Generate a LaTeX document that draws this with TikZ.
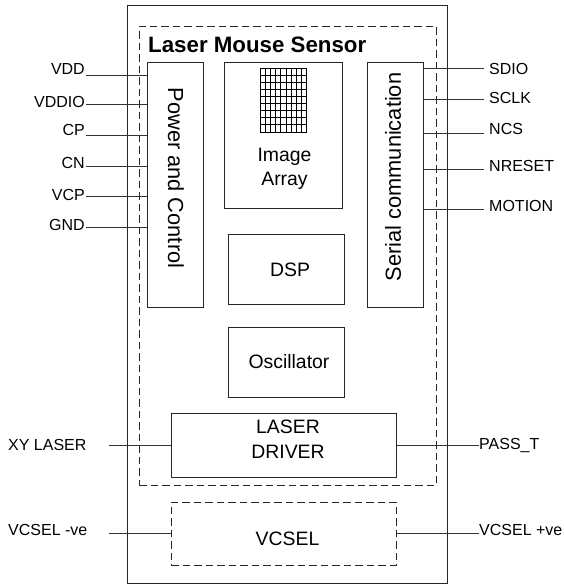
\documentclass[tikz,border=0pt]{standalone}
\usepackage{fontspec}
\setmainfont{Liberation Sans}
\tikzset{
  x=1pt,y=-1pt,
  block/.style={draw=black!85,line width=0.9pt,minimum width=0pt,inner sep=0pt,anchor=north west},
  dashblock/.style={block,dash pattern=on 7.5pt off 4pt},
  wire/.style={draw=black!80,line width=0.9pt},
  pin/.style={font=\fontsize{16}{16}\selectfont,inner sep=0pt},
  lbl/.style={font=\fontsize{19.4}{24.5}\selectfont,inner sep=0pt,align=center},
  sidelbl/.style={font=\fontsize{21.8}{22}\selectfont,inner sep=0pt},
  gridline/.style={draw=black,line width=0.8pt}
}
\newcommand{\boxat}[7][]{\node[#2,#1,minimum width=#5pt-#3pt,minimum height=#6pt-#4pt] (#7) at (#3,#4) {};}
\begin{document}
\begin{tikzpicture}
\useasboundingbox (0,0) rectangle (563,585);
\boxat{block}{127}{5}{447}{583}{chip}
\boxat{dashblock}{139}{26}{436}{485}{sensor}
\boxat{block}{147}{62}{203}{307}{power}
\boxat{block}{224}{62}{342}{208}{image}
\boxat{block}{367}{62}{423}{307}{serial}
\boxat{block}{228}{234}{344}{304}{dsp}
\boxat{block}{228}{327}{344}{397}{osc}
\boxat{block}{171}{413}{396}{477}{driver}
\boxat{dashblock}{171}{502}{396}{565}{vcsel}
\node[anchor=west,inner sep=0pt,font=\fontsize{22.3}{22.3}\selectfont\bfseries] (title) at (148,45) {Laser Mouse Sensor};
\node[sidelbl,rotate=-90] (powertxt) at (176,178) {Power and Control};
\node[sidelbl,rotate=90] (serialtxt) at (393,177) {Serial communication};
\node[lbl] (imagetxt) at (284.5,169) {Image\\Array};
\node[lbl] (dsptxt) at (290,270) {DSP};
\node[lbl] (osctxt) at (289,362) {Oscillator};
\node[lbl] (drivertxt) at (288,439) {LASER\\DRIVER};
\node[lbl] (vcseltxt) at (287.5,539) {VCSEL};
% pixel grid
\foreach \i in {0,...,9} {
  \pgfmathsetmacro{\gx}{260+\i*46.8/9}
  \pgfmathsetmacro{\gy}{68+\i*64/9}
  \draw[gridline] (\gx,68) -- (\gx,132);
  \draw[gridline] (260,\gy) -- (306.8,\gy);
}
% left pins
\foreach \n/\t/\ty/\wy in {a/VDD/69/75,b/VDDIO/102/104,c/CP/130/135,d/CN/163/166,e/VCP/195/196,f/GND/225/227} {
  \node[pin,anchor=east] (l\n) at (85,\ty) {\t};
  \coordinate (w\n) at (86,\wy);
  \draw[wire] (w\n) -- (w\n -| power.west);
}
% right pins
\foreach \n/\t/\ty/\wy in {a/SDIO/69/68,b/SCLK/98/99,c/NCS/129/133,d/NRESET/166/169,e/MOTION/206/209} {
  \node[pin,anchor=west] (r\n) at (489,\ty) {\t};
  \coordinate (q\n) at (484,\wy);
  \draw[wire] (serial.east |- q\n) -- (q\n);
}
% bottom pins
\node[pin,anchor=west] (xy) at (8,445) {XY LASER};
\node[pin,anchor=west] (vneg) at (8,530) {VCSEL -ve};
\node[pin,anchor=west] (pass) at (479,445) {PASS\_T};
\node[pin,anchor=west] (vpos) at (479,530) {VCSEL +ve};
\coordinate (xyend) at (109,445);
\coordinate (vnegend) at (109,533);
\draw[wire] (xyend) -- (xyend -| driver.west);
\draw[wire] (vnegend) -- (vnegend -| vcsel.west);
\draw[wire] (driver.east |- pass.west) -- (pass.west);
\draw[wire] (vcsel.east |- vnegend) -- (vnegend -| vpos.west);
\end{tikzpicture}
\end{document}
